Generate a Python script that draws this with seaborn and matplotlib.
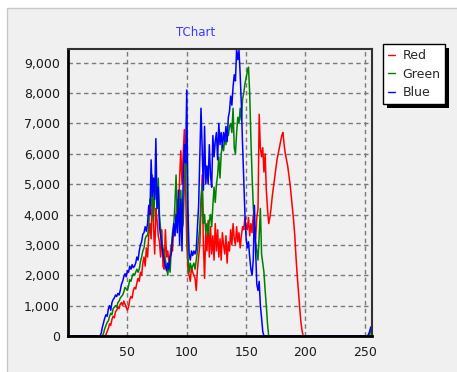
import numpy as np
import pandas as pd
import matplotlib
matplotlib.use("Agg")
import matplotlib.pyplot as plt
import seaborn as sns
from matplotlib.patches import Rectangle
from matplotlib.transforms import IdentityTransform
from matplotlib.ticker import MultipleLocator, FuncFormatter, FixedLocator
from matplotlib.lines import Line2D

# ---------------- data (histogram counts per intensity bin 0..255) ----------------
red_start = 32
red_values = [50, 150, 250, 400, 350, 550, 650, 600, 800, 850, 950, 900, 1050, 1100, 1000,
              1150, 1050, 950, 850, 950, 1200, 1300, 1250, 1500, 1600, 1550, 1750, 1900, 1800,
              2100, 2000, 2400, 2600, 2300, 2900, 2600, 3300, 3700, 3200, 4900, 3600, 2700,
              4200, 3800, 3300, 3100, 2600, 3500, 2300, 2200, 3500, 2600, 2800, 2400, 2700,
              3000, 2800, 3600, 3300, 4000, 4500, 3800, 5200, 6100, 5000, 6000, 6800, 5000,
              3100, 2200, 2000, 1800, 2300, 2100, 2000, 1900, 1500, 2200, 2600, 3000, 4200,
              5300, 3000, 1900, 3400, 2800, 3800, 2600, 3600, 2700, 3300, 2500, 3700, 2800,
              3500, 2600, 3200, 2500, 3400, 3000, 2700, 3300, 2400, 3100, 2800, 3500, 3000,
              3700, 3200, 3000, 3600, 3100, 3400, 2900, 3300, 3600, 3500, 3900, 3600, 3500,
              3900, 3300, 3700, 3400, 4000, 3600, 3200, 3900, 4200, 7300, 6200, 5900, 6200,
              5400, 6000, 4800, 4200, 3700, 3900, 4200, 4600, 4900, 5200, 5500, 5800, 6000,
              6200, 6400, 6600, 6700, 6300, 6000, 5800, 5600, 5300, 5000, 4600, 4200, 3800,
              3300, 2600, 2000, 1500, 1000, 500, 200]
red_tail = []

green_start = 30
green_values = [100, 250, 350, 450, 500, 650, 750, 700, 900, 950, 1000, 950, 1100, 1150, 1250,
                1300, 1350, 1450, 1600, 1550, 1500, 1650, 1850, 1800, 1950, 2050, 2000, 2100,
                2200, 2100, 2200, 2450, 2600, 2800, 2900, 3200, 3300, 3300, 3600, 4500, 4300,
                5300, 3800, 4600, 5200, 4200, 5200, 4000, 3500, 3000, 2900, 2700, 2500, 2300,
                2000, 2400, 2100, 2900, 3400, 3600, 4300, 5300, 3900, 4500, 3600, 4800, 3500,
                3700, 5000, 5800, 6000, 2600, 2100, 2400, 2200, 2300, 2400, 2200, 2500, 2800,
                3200, 3600, 4500, 5000, 3700, 4000, 3400, 3700, 3300, 3800, 4000, 3600, 4300,
                4900, 4400, 5000, 5300, 5900, 5200, 6000, 6300, 6100, 6500, 6300, 6800, 6600,
                6900, 7000, 6700, 7500, 6200, 6000, 6700, 7200, 7000, 7500, 7100, 7800, 8000,
                8300, 8500, 8700, 8850, 8000, 6500, 5300, 4300, 3600, 3100, 2800, 2500, 3300,
                4200, 2700, 2400, 2100, 1500, 1000, 400]
green_tail = [0, 200]   # bins 254, 255

blue_start = 28
blue_values = [100, 300, 450, 600, 700, 650, 900, 1000, 850, 1100, 1200, 1250, 1350, 1300,
               1400, 1350, 1500, 1700, 1800, 1950, 2050, 1950, 2150, 2100, 2300, 2200, 2350,
               2250, 2300, 2400, 2600, 2500, 2800, 3000, 3100, 3350, 3400, 3600, 3450, 3700,
               4300, 4000, 5800, 4600, 5200, 4500, 6500, 4200, 4900, 3600, 3300, 3000, 2700,
               2500, 2300, 2150, 2400, 2200, 2600, 2700, 3200, 3700, 3300, 4000, 3400, 4800,
               3000, 4500, 2800, 5200, 6300, 5700, 8100, 4200, 2700, 2500, 2800, 2650, 2800,
               2700, 2850, 3600, 4300, 5900, 7500, 6200, 4800, 6900, 5000, 5600, 5000, 6300,
               5300, 4900, 6600, 5900, 6400, 6700, 5800, 7000, 6300, 6700, 6200, 6700, 6400,
               6900, 6400, 7200, 7400, 7900, 7600, 8200, 8600, 8400, 9450, 9100, 9400, 8600,
               7600, 6300, 5200, 4000, 3200, 2900, 3100, 2600, 2200, 2000, 2500, 4300, 2800,
               1700, 1500, 1800, 1000, 600, 150]
blue_tail = [0, 50, 150, 300]   # bins 252..255

x_tick_values = [50, 100, 150, 200, 250]


def full_series(start, values, tail):
    s = [0] * start + list(values)
    s += [0] * (256 - len(tail) - len(s))
    s += list(tail)
    return s[:256]


red = full_series(red_start, red_values, red_tail)
green = full_series(green_start, green_values, green_tail)
blue = full_series(blue_start, blue_values, blue_tail)
bins = list(range(256))

channels = ["Red", "Green", "Blue"]
colors = {"Red": "#ff0000", "Green": "#008000", "Blue": "#0000ff"}

df = pd.DataFrame({
    "bin": bins * 3,
    "count": red + green + blue,
    "channel": ["Red"] * 256 + ["Green"] * 256 + ["Blue"] * 256,
})

# ---------------- figure ----------------
W, H = 457, 372
sns.set_style("white")
plt.rcParams["font.family"] = ["DejaVu Sans"]

fig = plt.figure(figsize=(W / 100, H / 100), dpi=100)
fig.patch.set_facecolor("white")
# panel background with thin border
fig.add_artist(Rectangle((7 / W, -0.01), 1.0, 1 - 8 / H + 0.01, transform=fig.transFigure,
                         facecolor="#f0f0f0", edgecolor="#c8c8c8", lw=1, zorder=-2))

L, R, T, B = 68, 372, 49, 336
ax = fig.add_axes([L / W, 1 - B / H, (R - L) / W, (B - T) / H])
ax.set_facecolor("#f0f0f0")

sns.lineplot(data=df, x="bin", y="count", hue="channel", hue_order=channels,
             palette=colors, estimator=None, errorbar=None, lw=1.1, legend=False, ax=ax)

ax.set_xlim(0, 256)
ax.set_ylim(0, 9450)
ax.set_xlabel("")
ax.set_ylabel("")

ax.xaxis.set_major_locator(FixedLocator(x_tick_values))
ax.xaxis.set_minor_locator(MultipleLocator(10))
ax.yaxis.set_major_locator(MultipleLocator(1000))
ax.yaxis.set_major_formatter(FuncFormatter(lambda v, p: f"{int(v):,}"))

ax.grid(True, which="major", color="#7a7a7a", linestyle=(0, (3.2, 2.4)), lw=1.0)
ax.set_axisbelow(True)

ax.tick_params(axis="both", which="major", direction="out", length=4, width=1,
               color="#202020", labelsize=9, labelcolor="#1a1a1a", pad=2)
ax.tick_params(axis="x", which="minor", direction="out", length=2, width=1, color="#202020")
ax.tick_params(axis="x", which="major", pad=3)

for side in ["left", "bottom"]:
    ax.spines[side].set_linewidth(2.0)
    ax.spines[side].set_color("black")
for side in ["top", "right"]:
    ax.spines[side].set_linewidth(1.5)
    ax.spines[side].set_color("#303030")

# title
fig.text(196 / W, 1 - 33 / H, "TChart", color="#3a3aff", fontsize=8.5,
         ha="center", va="center")

# legend (figure-level so it sits above its shadow)
handles = [Line2D([0], [0], color=colors[c], lw=1.0) for c in channels]
leg = fig.legend(handles, channels, loc="upper left",
                 bbox_to_anchor=(383 / W, 1 - 44 / H), bbox_transform=fig.transFigure,
                 borderaxespad=0, frameon=True, fancybox=False, facecolor="white",
                 edgecolor="black", framealpha=1, fontsize=9, handlelength=0.55,
                 handletextpad=0.6, labelspacing=0.45, borderpad=0.4)
leg.get_frame().set_linewidth(1.0)
leg.set_zorder(10)

fig.canvas.draw()
bb = leg.get_window_extent()
fig.add_artist(Rectangle((bb.x0 + 4, bb.y0 - 4), bb.width, bb.height,
                         transform=IdentityTransform(), facecolor="black",
                         edgecolor="none", zorder=9))

fig.savefig("out.png", dpi=100, facecolor=fig.get_facecolor())
